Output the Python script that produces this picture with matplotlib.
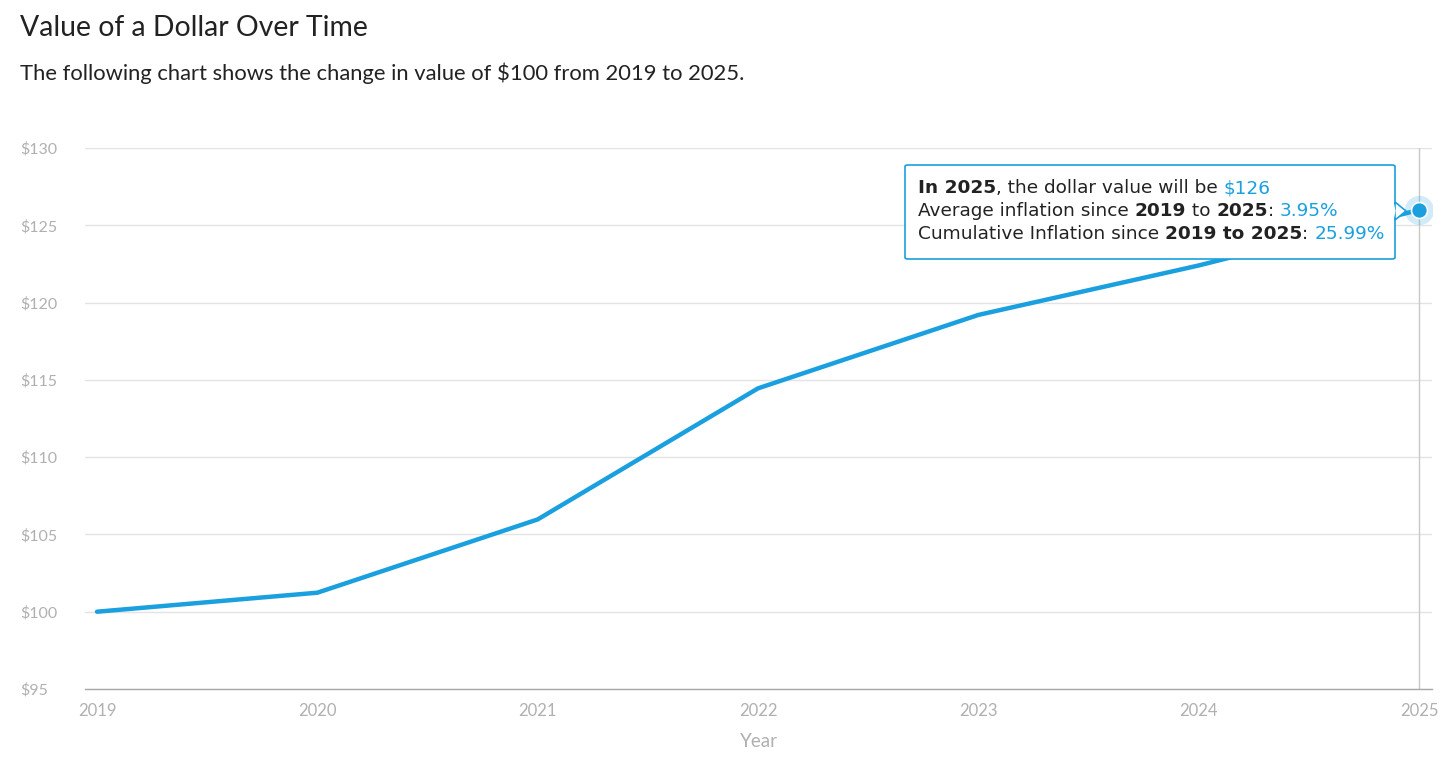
import matplotlib
matplotlib.use("Agg")
import matplotlib.pyplot as plt
from matplotlib.patches import FancyBboxPatch, Polygon

years = [2019, 2020, 2021, 2022, 2023, 2024, 2025]
values = [100.0, 101.23, 105.97, 114.45, 119.2, 122.4, 125.99]
yticks = [95, 100, 105, 110, 115, 120, 125, 130]
title = "Value of a Dollar Over Time"
subtitle = "The following chart shows the change in value of $100 from 2019 to 2025."

LINE = "#1a9fdf"
W, H = 1456, 769
fig = plt.figure(figsize=(W / 100, H / 100), dpi=100)
fig.patch.set_facecolor("white")
ax = fig.add_axes([85 / W, 1 - 689 / H, (1432 - 85) / W, (689 - 148) / H])
renderer = fig.canvas.get_renderer()

ax.set_xlim(2019 - 12 / 220.3, 2025 + 13 / 220.3)
ax.set_ylim(95, 130)
ax.set_yticks(yticks)
ax.set_yticklabels([f"${v}" for v in yticks])
ax.set_xticks(years)
ax.set_xticklabels([str(y) for y in years])
for s in ["top", "right", "left"]:
    ax.spines[s].set_visible(False)
ax.spines["bottom"].set_color("#a8a8a8")
ax.spines["bottom"].set_linewidth(1.0)
ax.grid(axis="y", color="#e3e3e3", linewidth=1.0)
ax.set_axisbelow(True)
ax.tick_params(axis="both", length=0, colors="#b0b0b0", labelsize=11.5)
ax.tick_params(axis="x", labelsize=12)
ax.tick_params(axis="y", pad=46.8)
ax.tick_params(axis="x", pad=10)
for lab in ax.get_yticklabels():
    lab.set_horizontalalignment("left")
    lab.set_fontfamily("Lato")
for lab in ax.get_xticklabels():
    lab.set_fontfamily("Lato")
ax.set_xlabel("Year", color="#b0b0b0", fontsize=13.5, fontfamily="Lato", labelpad=10)

# crosshair
ax.axvline(years[-1], color="#c8c8c8", linewidth=1.0, zorder=1)

ax.plot(years, values, color=LINE, linewidth=3.2, solid_capstyle="round", zorder=3)
ax.plot([years[-1]], [values[-1]], "o", markersize=21, color=LINE, alpha=0.2, zorder=4, markeredgewidth=0)
ax.plot([years[-1]], [values[-1]], "o", markersize=11.5, color=LINE, markeredgecolor="white", markeredgewidth=1.2, zorder=5)


def fitted(x, y, txt, target_w, size, **kw):
    t = fig.text(x / W, 1 - y / H, txt, fontsize=size, **kw)
    w = t.get_window_extent(renderer=renderer).width
    t.set_fontsize(size * target_w / w)
    return t


fitted(20, 28, title, 347, 18, fontfamily="Lato", color="#222222", va="center", ha="left")
fitted(20, 73, subtitle, 729, 14, fontfamily="Lato", color="#222222", va="center", ha="left")

# tooltip box
bx0, by0, bx1, by1 = 905, 165, 1395, 259
box = FancyBboxPatch((bx0 / W, 1 - by1 / H), (bx1 - bx0) / W, (by1 - by0) / H,
                     boxstyle="round,pad=0,rounding_size=0.002", transform=fig.transFigure,
                     facecolor="white", edgecolor=LINE, linewidth=1.2, zorder=10)
fig.patches.append(box)
tri = Polygon([(bx1 / W, 1 - 202 / H), (1406 / W, 1 - 211 / H), (bx1 / W, 1 - 220 / H)],
              closed=True, transform=fig.transFigure, facecolor="white", edgecolor=LINE,
              linewidth=1.2, zorder=11)
fig.patches.append(tri)
cover = Polygon([(bx1 / W - 0.0008, 1 - 203 / H), (bx1 / W - 0.0008, 1 - 219 / H), (bx1 / W + 0.0004, 1 - 211 / H)],
                closed=True, transform=fig.transFigure, facecolor="white", edgecolor="none", zorder=12)
fig.patches.append(cover)

lines = [
    [("In 2025", "bold", "#222222"), (", the dollar value will be ", "normal", "#222222"), ("$126", "normal", LINE)],
    [("Average inflation since ", "normal", "#222222"), ("2019", "bold", "#222222"), (" to ", "normal", "#222222"),
     ("2025", "bold", "#222222"), (": ", "normal", "#222222"), ("3.95%", "normal", LINE)],
    [("Cumulative Inflation since ", "normal", "#222222"), ("2019 to 2025", "bold", "#222222"),
     (": ", "normal", "#222222"), ("25.99%", "normal", LINE)],
]
ys = [188, 211, 234]
for runs, yy in zip(lines, ys):
    x = 918
    for txt, wt, col in runs:
        t = fig.text(x / W, 1 - yy / H, txt, fontsize=13.3, fontweight=wt, color=col,
                     fontfamily="DejaVu Sans", va="center", ha="left", zorder=13)
        bb = t.get_window_extent(renderer=renderer)
        x += bb.width

fig.savefig("out.png", dpi=100, facecolor="white")
